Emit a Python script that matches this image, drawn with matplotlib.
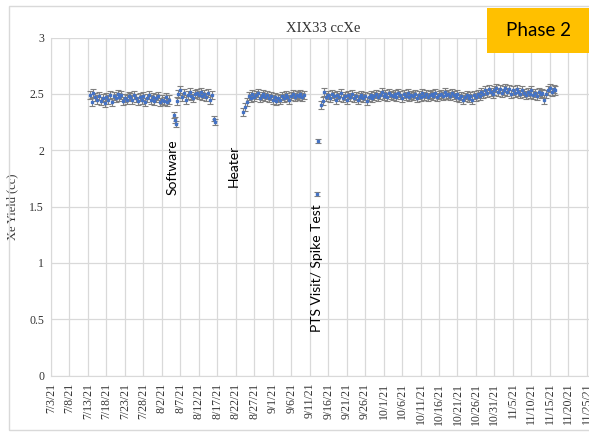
import matplotlib
matplotlib.use("Agg")
import matplotlib.pyplot as plt
from matplotlib.patches import Rectangle
import pandas as pd

# ---- data ----
seg1_start = "2021-07-13 12:00"
seg1 = [2.49, 2.43, 2.51, 2.47, 2.45, 2.48, 2.44, 2.46, 2.42, 2.47,
        2.45, 2.49, 2.43, 2.48, 2.46, 2.50, 2.47, 2.49, 2.44, 2.46,
        2.45, 2.48, 2.47, 2.45, 2.49, 2.46, 2.44, 2.47, 2.45, 2.48,
        2.43, 2.46, 2.49, 2.45, 2.47, 2.44, 2.46, 2.48, 2.43, 2.45,
        2.44, 2.47, 2.43, 2.45]

dip1_dates = ["2021-08-05 06:00", "2021-08-05 12:00", "2021-08-05 18:00"]
dip1 = [2.31, 2.27, 2.23]

seg2_start = "2021-08-06 00:00"
seg2 = [2.44, 2.50, 2.53, 2.47, 2.51, 2.45, 2.49, 2.52, 2.48, 2.46,
        2.50, 2.51, 2.49, 2.52, 2.48, 2.50, 2.47, 2.51, 2.45, 2.49]

dip2_dates = ["2021-08-16 00:00", "2021-08-16 06:00"]
dip2 = [2.28, 2.25]

seg3_start = "2021-08-24 00:00"
seg3 = [2.34, 2.38, 2.43, 2.48, 2.46, 2.50, 2.47, 2.49, 2.51, 2.46,
        2.48, 2.50, 2.47, 2.49, 2.46, 2.48, 2.45, 2.47, 2.44, 2.46,
        2.45, 2.48, 2.46, 2.49, 2.47, 2.45, 2.48, 2.50, 2.47, 2.49,
        2.48, 2.50, 2.47, 2.49]

pts_dates = ["2021-09-13 06:00", "2021-09-13 00:00"]
pts = [2.08, 1.61]

seg4_start = "2021-09-14 00:00"
seg4 = [2.40, 2.44, 2.52, 2.47, 2.49, 2.46, 2.50, 2.48, 2.45, 2.49,
        2.47, 2.51, 2.46, 2.48, 2.45, 2.49, 2.47, 2.50, 2.46, 2.48,
        2.45, 2.47, 2.49, 2.46, 2.48, 2.44, 2.47, 2.49, 2.46, 2.48,
        2.50, 2.47, 2.49, 2.52, 2.48, 2.50, 2.47, 2.51, 2.49, 2.48,
        2.50, 2.47, 2.51, 2.49, 2.46, 2.50, 2.48, 2.51, 2.47, 2.49,
        2.48, 2.50, 2.46, 2.49, 2.47, 2.51, 2.48, 2.50, 2.47, 2.49,
        2.50, 2.48, 2.51, 2.47, 2.49, 2.50, 2.48, 2.52, 2.49, 2.50,
        2.48, 2.51, 2.49, 2.47, 2.50, 2.46, 2.48, 2.45, 2.47, 2.49,
        2.46, 2.48, 2.45, 2.49, 2.47, 2.50, 2.48, 2.52, 2.50, 2.53,
        2.51, 2.54, 2.52, 2.50, 2.53, 2.55, 2.52, 2.54, 2.51, 2.53,
        2.55, 2.52, 2.54, 2.50, 2.53, 2.51, 2.54, 2.52, 2.50, 2.53,
        2.51, 2.49, 2.52, 2.50, 2.53, 2.49, 2.51, 2.48, 2.52, 2.50,
        2.51, 2.45, 2.50, 2.53, 2.55, 2.52, 2.54, 2.53]

err_main = 0.036
err_single = 0.025
err_pts = 0.02

events = ["Software", "Heater", "PTS Visit/ Spike Test"]
event_x = ["2021-08-04 19:00", "2021-08-21 08:00", "2021-09-13 00:00"]
event_y = [1.605, 1.676, 0.388]

tick_start = "2021-07-03"
tick_end = "2021-11-25"

BLUE = "#4472C4"
GRAY = "#7f7f7f"
GRID = "#d9d9d9"
TXT = "#333333"

fig = plt.figure(figsize=(5.89, 4.33), dpi=100)
ax = fig.add_axes([51 / 589, 57.3 / 433, 538 / 589, 338.2 / 433])

# outer chart frame
fig.patches.append(Rectangle((9 / 589, 3 / 433), 1.0, 424 / 433,
                             transform=fig.transFigure, fill=False,
                             edgecolor=GRID, lw=1.0))


def draw(dates, vals, err):
    ax.errorbar(pd.to_datetime(dates), vals, yerr=err, fmt="s", ms=1.8,
                color=BLUE, ecolor=GRAY, elinewidth=0.8, capsize=2,
                capthick=0.8, zorder=3)


for start, vals in [(seg1_start, seg1), (seg2_start, seg2),
                    (seg3_start, seg3), (seg4_start, seg4)]:
    draw(pd.date_range(start, periods=len(vals), freq="12h"), vals, err_main)

draw(dip1_dates, dip1, err_single)
draw(dip2_dates, dip2, err_single)
draw(pts_dates, pts, err_pts)

for label, x, y in zip(events, event_x, event_y):
    ax.text(pd.Timestamp(x), y, label, rotation=90, ha="center",
            va="bottom", fontsize=10, family="Lato", color="black")

ticks = pd.date_range(tick_start, tick_end, freq="5D")
ax.set_xticks(ticks)
ax.set_xticklabels([f"{d.month}/{d.day}/21" for d in ticks], rotation=90,
                   fontsize=8.5, family="Liberation Serif", color=TXT)
ax.set_xlim(pd.Timestamp(tick_start), pd.Timestamp(tick_start) + pd.Timedelta(days=145.6))
ax.set_ylim(0, 3)
ax.set_yticks([0, 0.5, 1, 1.5, 2, 2.5, 3])
ax.set_yticklabels(["0", "0.5", "1", "1.5", "2", "2.5", "3"],
                   fontsize=8.5, family="Liberation Serif", color=TXT)
ax.tick_params(length=0, pad=5)
ax.grid(True, color=GRID, lw=0.9)
ax.set_axisbelow(True)
for s in ["top", "right"]:
    ax.spines[s].set_visible(False)
for s in ["left", "bottom"]:
    ax.spines[s].set_color(GRID)

ax.set_ylabel("Xe Yield (cc)", fontsize=9, family="Liberation Serif", color=TXT)
ax.yaxis.set_label_coords(-0.061, 0.5)

fig.text(323.5 / 589, 405 / 433, "XIX33 ccXe", ha="center", va="center",
         fontsize=10.5, family="Liberation Serif", color=TXT)

# Phase 2 box
fig.patches.append(Rectangle((487 / 589, 380 / 433), 110 / 589, 45 / 433,
                             transform=fig.transFigure, facecolor="#FFC000",
                             edgecolor="none", zorder=5))
fig.text(539 / 589, 402 / 433, "Phase 2", ha="center", va="center",
         fontsize=13.5, family="Lato", color="black", zorder=6)

fig.savefig("out.png", dpi=100)
